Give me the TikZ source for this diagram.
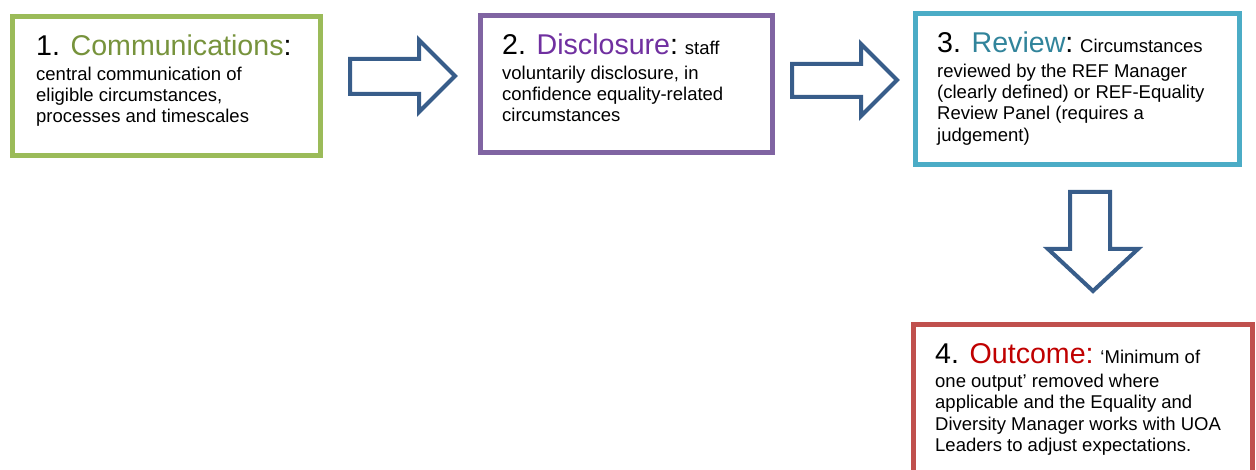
\documentclass[tikz,border=0pt]{standalone}
\usepackage{fontspec}
\setmainfont{Liberation Sans}
\definecolor{bgreen}{HTML}{9BBB59}
\definecolor{bpurple}{HTML}{8064A2}
\definecolor{bblue}{HTML}{4BACC6}
\definecolor{bred}{HTML}{C0504D}
\definecolor{tgreen}{HTML}{77933C}
\definecolor{tpurple}{HTML}{7030A0}
\definecolor{tblue}{HTML}{31849B}
\definecolor{tred}{HTML}{C00000}
\definecolor{arrowblue}{HTML}{385D8A}
\newcommand{\tsz}{\fontsize{28.6}{28.6}\selectfont}
\tikzset{
  stepbox/.style={draw, line width=5pt, fill=white, rectangle, inner sep=0pt, outer sep=0pt},
  txt/.style={anchor=north west, inner sep=0pt, align=left, text=black,
    font=\fontsize{18.5}{21.3}\selectfont},
  blockarrow/.style={draw=arrowblue, line width=4pt, fill=white, line join=miter}
}
\begin{document}
\begin{tikzpicture}[x=1pt,y=-1pt]
\useasboundingbox (0,0) rectangle (1256,470);
% boxes
\node[stepbox, draw=bgreen, minimum width=308pt, minimum height=139.5pt, anchor=north west] (b1) at (12.5,16.5) {};
\node[stepbox, draw=bpurple, minimum width=292.5pt, minimum height=137pt, anchor=north west] (b2) at (480,15.5) {};
\node[stepbox, draw=bblue, minimum width=323.5pt, minimum height=151pt, anchor=north west] (b3) at (915.5,13.5) {};
\node[stepbox, draw=bred, minimum width=339pt, minimum height=160pt, anchor=north west] (b4) at (913.5,324.5) {};
% texts
\node[txt] (t1) at (36,35) {{\tsz 1. \textcolor{tgreen}{Communications}:}\\[3pt]central communication of\\eligible circumstances,\\processes and timescales};
\node[txt] (t2) at (502,34) {{\tsz 2. \textcolor{tpurple}{Disclosure}:} staff\\[3pt]voluntarily disclosure, in\\confidence equality-related\\circumstances};
\node[txt] (t3) at (937,32) {{\tsz 3. \textcolor{tblue}{Review}:} Circumstances\\[3pt]reviewed by the REF Manager\\(clearly defined) or REF-Equality\\Review Panel (requires a\\judgement)};
\node[txt] (t4) at (935,343) {{\tsz 4. \textcolor{tred}{Outcome:}} ‘Minimum of\\[3pt]one output’ removed where\\applicable and the Equality and\\Diversity Manager works with UOA\\Leaders to adjust expectations.};
% block arrows
\draw[blockarrow] (350,59) -- (419,59) -- (419,40) -- (455,76) -- (419,112) -- (419,94) -- (350,94) -- cycle;
\draw[blockarrow] (792,64) -- (861,64) -- (861,44) -- (897,80) -- (861,116) -- (861,97) -- (792,97) -- cycle;
\draw[blockarrow] (1070,192) -- (1110,192) -- (1110,249) -- (1138,249) -- (1093,291) -- (1048,249) -- (1070,249) -- cycle;
\end{tikzpicture}
\end{document}
